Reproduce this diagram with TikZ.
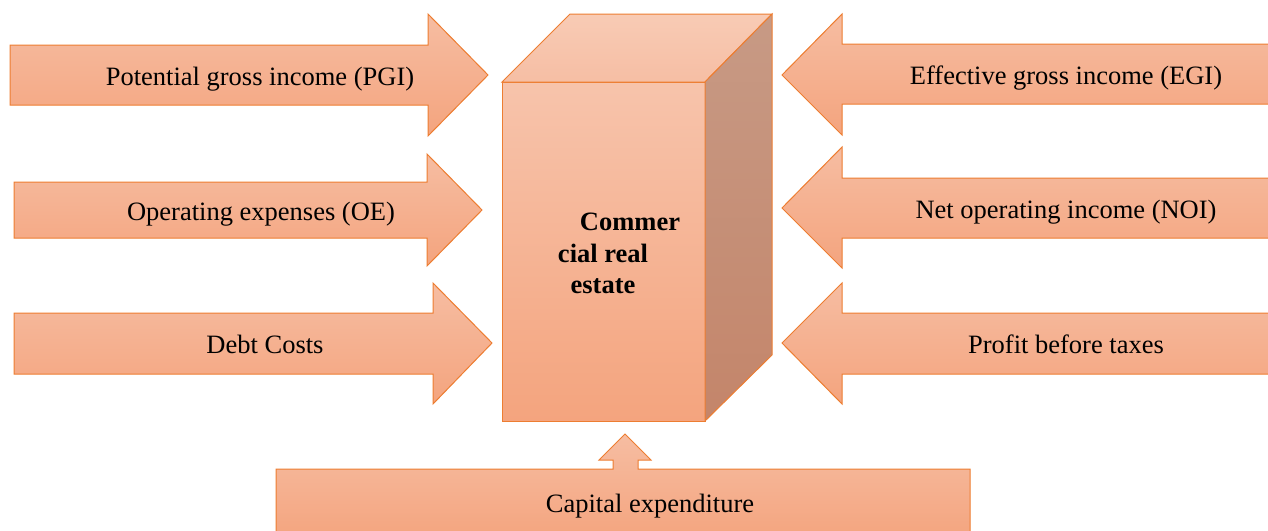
\documentclass[tikz,border=0pt]{standalone}
\usepackage{fontspec}
\setmainfont{Liberation Serif}
\definecolor{edgeorange}{HTML}{ED7D31}
\definecolor{shadetop}{HTML}{F6BDA2}
\definecolor{shadebot}{HTML}{F4A47E}
\definecolor{lidtop}{HTML}{F8CBB5}
\definecolor{lidbot}{HTML}{F6BEA4}
\definecolor{sidetop}{HTML}{C79A85}
\definecolor{sidebot}{HTML}{C4856A}
\begin{document}
        \begin{tikzpicture}[x=1pt,y=-1pt]
            \tikzstyle{every node}=[font=\fontsize{26.5}{31}\selectfont]
            \tikzstyle{fatarrow}=[draw=edgeorange, line width=1pt, top color=shadetop, bottom color=shadebot]
            \tikzstyle{boldtext}=[font=\fontsize{26.5}{31}\selectfont\bfseries]
            \clip (0,0) rectangle (1268,530);
            % arrows on the left
            \draw [fatarrow] (10,45) -- (428,45) -- (428,14) -- (488,75) -- (428,136) -- (428,105) -- (10,105) -- cycle;
            \draw [fatarrow] (14,182) -- (427,182) -- (427,154) -- (482,210) -- (427,266) -- (427,238) -- (14,238) -- cycle;
            \draw [fatarrow] (14,313) -- (433,313) -- (433,283) -- (492,343) -- (433,404) -- (433,374) -- (14,374) -- cycle;
            % arrows on the right
            \draw [fatarrow] (1272,44) -- (842,44) -- (842,14) -- (782,75) -- (842,135) -- (842,104) -- (1272,104) -- cycle;
            \draw [fatarrow] (1272,178) -- (842,178) -- (842,147) -- (782,208) -- (842,268) -- (842,238) -- (1272,238) -- cycle;
            \draw [fatarrow] (1272,313) -- (842,313) -- (842,283) -- (782,343) -- (842,404) -- (842,374) -- (1272,374) -- cycle;
            % arrow at the bottom
            \draw [fatarrow] (276,540) -- (276,469) -- (613,469) -- (613,460) -- (599,460) -- (625,434) -- (651,460) -- (638,460) -- (638,469) -- (970,469) -- (970,540) -- cycle;
            % the block
            \draw [line width=1pt, draw=edgeorange, top color=shadetop!90!white, bottom color=shadebot] (502,82) rectangle (705,421);
            \draw [line width=1pt, draw=edgeorange, top color=lidtop, bottom color=lidbot] (502,82) -- (570,14) -- (772,14) -- (705,82) -- cycle;
            \draw [line width=1pt, draw=edgeorange, top color=sidetop, bottom color=sidebot] (705,82) -- (772,14) -- (772,355) -- (705,421) -- cycle;
            \node [boldtext, anchor=base] (cre1) at (630,230) {Commer};
            \node [boldtext, anchor=base] (cre2) at (603,262) {cial real};
            \node [boldtext, anchor=base] (cre3) at (603,293) {estate};
            % labels
            \node [anchor=base] (pgi) at (260,85) {Potential gross income (PGI)};
            \node [anchor=base] (oe) at (261,220) {Operating expenses (OE)};
            \node [anchor=base] (debt) at (265,353) {Debt Costs};
            \node [anchor=base] (egi) at (1066,84) {Effective gross income (EGI)};
            \node [anchor=base] (noi) at (1066,218) {Net operating income (NOI)};
            \node [anchor=base] (pbt) at (1066,353) {Profit before taxes};
            \node [anchor=base] (capex) at (650,512) {Capital expenditure};
        \end{tikzpicture}
\end{document}
